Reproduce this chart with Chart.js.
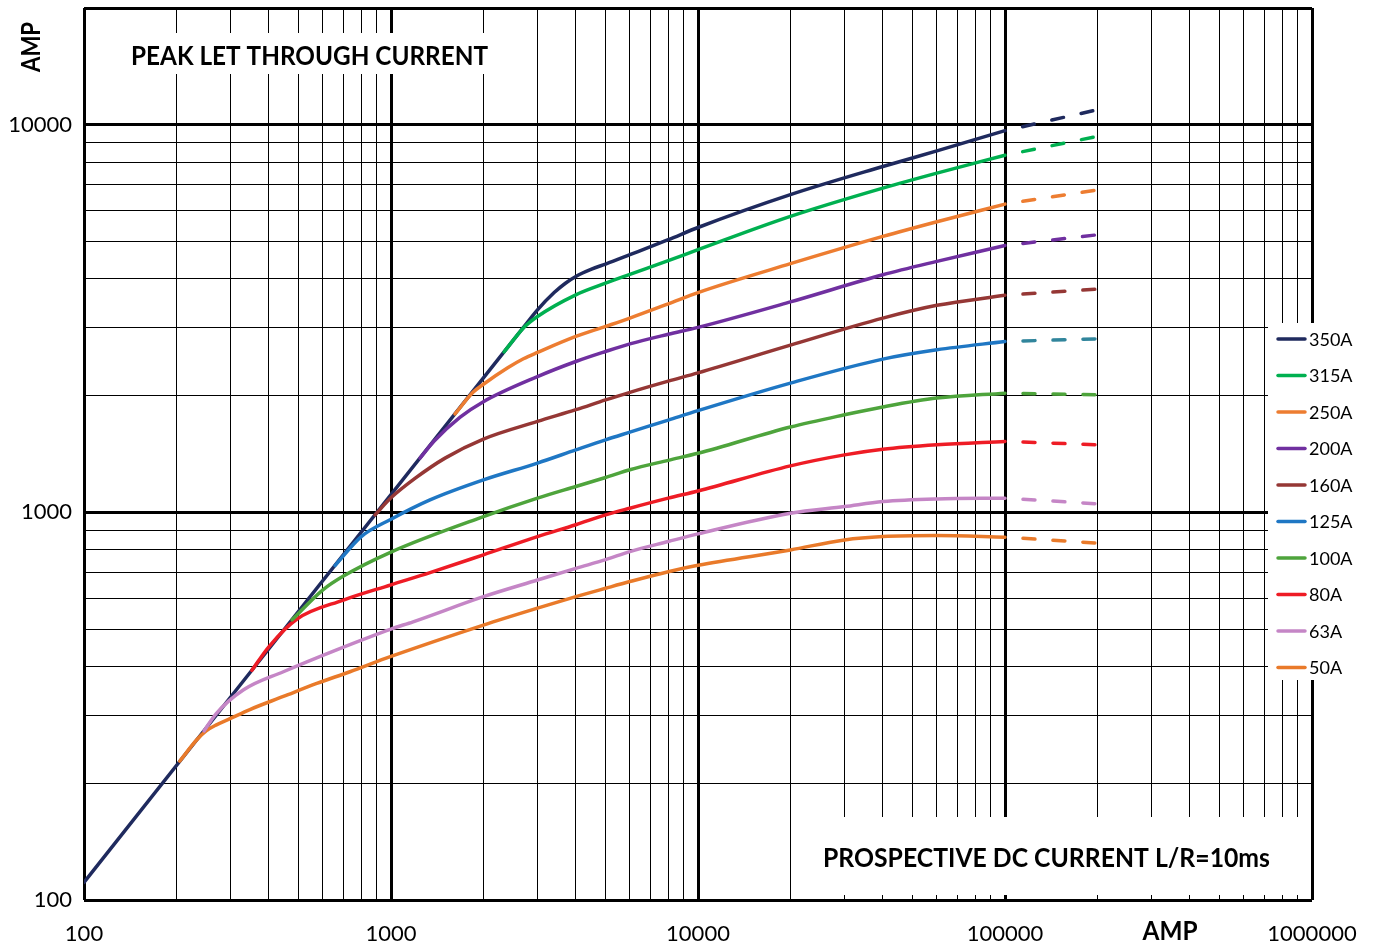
<!DOCTYPE html>
<html>
<head>
<meta charset="utf-8">
<script src="https://cdn.jsdelivr.net/npm/chart.js@4.4.1/dist/chart.umd.min.js"></script>
<style>
  html, body { margin: 0; padding: 0; background: #fff; }
  #wrap { width: 1375px; height: 949px; position: relative; }
</style>
</head>
<body>
<div id="wrap"><canvas id="graph"></canvas></div>
<script>
// fuse ratings, in legend order
const ratings = ["350A", "315A", "250A", "200A", "160A", "125A", "100A", "80A", "63A", "50A"];
const colors = ["#1f2a5e", "#00b050", "#ed7d31", "#7030a0", "#953735", "#1f77c4", "#4ea43c", "#ee1c25", "#c586c6", "#e97a2a"];
const dashColors = ["#1f2a5e", "#00b050", "#ed7d31", "#7030a0", "#953735", "#31859c", "#4ea43c", "#ee1c25", "#c586c6", "#e97a2a"];

// prospective current (x) and peak let-through current (y)
const x350 = [100, 2700, 3000, 3400, 3700, 4000, 4500, 5000, 6000, 8000, 10000, 20000, 40000, 60000, 100000];
const y350 = [111, 3000, 3330, 3690, 3900, 4060, 4240, 4370, 4620, 5050, 5430, 6600, 7800, 8560, 9650];
const x315 = [2335, 2700, 3000, 4000, 5000, 6000, 8000, 10000, 20000, 40000, 60000, 100000];
const y315 = [2592, 2990, 3200, 3640, 3900, 4110, 4460, 4760, 5800, 6860, 7500, 8340];
const x250 = [1616, 1850, 2000, 2400, 2700, 3000, 4000, 5000, 6000, 8000, 10000, 20000, 40000, 60000, 100000];
const y250 = [1794, 2040, 2140, 2360, 2490, 2585, 2843, 3017, 3170, 3450, 3690, 4380, 5150, 5620, 6240];
const x200 = [1243, 1380, 1680, 2000, 3000, 4000, 5000, 6000, 8000, 10000, 20000, 40000, 60000, 100000];
const y200 = [1380, 1525, 1760, 1930, 2240, 2450, 2600, 2720, 2880, 3000, 3490, 4100, 4440, 4880];
const x160 = [887, 1000, 1200, 1500, 2000, 3000, 4000, 5000, 6000, 8000, 10000, 20000, 40000, 60000, 100000];
const y160 = [985, 1090, 1225, 1380, 1545, 1716, 1840, 1950, 2040, 2180, 2290, 2700, 3170, 3420, 3630];
const x125 = [657, 800, 1000, 1340, 2000, 3000, 4000, 5000, 6000, 8000, 10000, 20000, 40000, 60000, 100000];
const y125 = [729, 866, 960, 1077, 1213, 1340, 1449, 1538, 1610, 1730, 1830, 2155, 2485, 2626, 2759];
const x100 = [476, 600, 700, 1000, 2000, 3000, 4000, 5000, 6000, 8000, 10000, 20000, 30000, 40000, 60000, 100000];
const y100 = [528, 631, 685, 790, 975, 1088, 1166, 1230, 1288, 1362, 1420, 1660, 1785, 1870, 1971, 2030];
const x80 = [352, 400, 493, 700, 1000, 1340, 2000, 3000, 4000, 5000, 6000, 8000, 10000, 20000, 30000, 40000, 60000, 100000];
const y80 = [391, 450, 530, 594, 650, 699, 777, 866, 929, 985, 1025, 1088, 1135, 1318, 1407, 1455, 1494, 1524];
const x63 = [246, 270, 330, 446, 665, 1000, 1180, 2000, 3000, 4000, 5000, 6000, 8000, 10000, 20000, 30000, 40000, 60000, 100000];
const y63 = [273, 303, 348, 388, 442, 500, 522, 606, 669, 717, 755, 792, 841, 880, 995, 1035, 1066, 1083, 1088];
const x50 = [205, 233, 250, 270, 300, 347, 446, 573, 735, 1000, 2000, 3000, 4000, 5000, 6000, 8000, 10000, 20000, 30000, 40000, 60000, 100000];
const y50 = [228, 259, 273, 283, 294, 310, 335, 362, 388, 425, 512, 566, 606, 637, 663, 703, 730, 800, 849, 866, 871, 863];

// dashed extrapolation from 100000 to 200000
const dashX = [100000, 200000];
const dashEnd = [10930, 9330, 6790, 5200, 3766, 2803, 2011, 1494, 1052, 833];

const xTickLabels = [100, 1000, 10000, 100000, 1000000];
const yTickLabels = [100, 1000, 10000];

const seriesX = [x350, x315, x250, x200, x160, x125, x100, x80, x63, x50];
const seriesY = [y350, y315, y250, y200, y160, y125, y100, y80, y63, y50];

function logGrid(from, to) {
  const out = [];
  for (let d = from; d < to; d *= 10) {
    for (let m = 1; m < 10; m++) out.push(m * d);
  }
  out.push(to);
  return out;
}
const isDecade = (v) => Math.abs(Math.log10(v) - Math.round(Math.log10(v))) < 1e-9;

const datasets = [];
ratings.forEach((name, i) => {
  datasets.push({
    label: name,
    data: seriesX[i].map((x, k) => ({ x: x, y: seriesY[i][k] })),
    borderColor: colors[i],
    borderWidth: 3.5,
    pointRadius: 0,
    cubicInterpolationMode: "monotone",
    borderCapStyle: "round",
    order: i === 0 ? 1 : 0
  });
  const last = seriesY[i][seriesY[i].length - 1];
  datasets.push({
    label: name + " dashed",
    data: [{ x: dashX[0], y: last }, { x: dashX[1], y: dashEnd[i] }],
    borderColor: dashColors[i],
    borderWidth: 3.5,
    pointRadius: 0,
    borderDash: [12, 18],
    borderDashOffset: 12,
    borderCapStyle: "round",
    order: 0
  });
});

function fitText(ctx, text, cx, cy, width, size) {
  ctx.font = "bold " + size + "px Lato";
  const w = ctx.measureText(text).width;
  ctx.save();
  ctx.translate(cx, cy);
  ctx.scale(width / w, 1);
  ctx.textAlign = "center";
  ctx.textBaseline = "middle";
  ctx.fillText(text, 0, 0);
  ctx.restore();
}

const overlay = {
  id: "overlay",
  afterDraw(chart) {
    const ctx = chart.ctx;
    ctx.save();
    // white label boxes over the grid
    ctx.fillStyle = "#fff";
    ctx.fillRect(125, 33, 372, 41);
    ctx.fillRect(791, 817, 519, 78);
    ctx.fillRect(1268, 323, 107, 357);

    ctx.fillStyle = "#000";
    fitText(ctx, "PEAK LET THROUGH CURRENT", 309.5, 56, 357, 27);
    fitText(ctx, "PROSPECTIVE DC CURRENT L/R=10ms", 1046.5, 858, 447, 27);
    fitText(ctx, "AMP", 1170, 931, 55, 27);
    ctx.save();
    ctx.translate(31, 47);
    ctx.rotate(-Math.PI / 2);
    fitText(ctx, "AMP", 0, 0, 50, 27);
    ctx.restore();

    // legend
    ratings.forEach((r, i) => {
      const y = 339 + i * 36.5;
      ctx.strokeStyle = colors[i];
      ctx.lineWidth = 3.5;
      ctx.lineCap = "round";
      ctx.beginPath();
      ctx.moveTo(1278, y);
      ctx.lineTo(1305, y);
      ctx.stroke();
      ctx.fillStyle = "#000";
      ctx.font = "18px Lato";
      ctx.textAlign = "left";
      ctx.textBaseline = "middle";
      ctx.fillText(r, 1309, y + 1);
    });
    ctx.restore();
  }
};

const noPad = (s) => { s.paddingTop = 0; s.paddingBottom = 0; s.paddingLeft = 0; s.paddingRight = 0; };

const ctx = document.getElementById("graph").getContext("2d");
new Chart(ctx, {
  type: "line",
  data: { datasets: datasets },
  plugins: [overlay],
  options: {
    responsive: true,
    maintainAspectRatio: false,
    animation: false,
    events: [],
    layout: { padding: { top: 8, right: 63, left: 0, bottom: 0 } },
    plugins: { legend: { display: false }, tooltip: { enabled: false } },
    scales: {
      x: {
        type: "logarithmic",
        min: 100,
        max: 1000000,
        afterBuildTicks: (s) => { s.ticks = logGrid(100, 1000000).map((v) => ({ value: v })); },
        afterFit: (s) => { s.height = 49; noPad(s); },
        border: { display: false },
        grid: {
          drawTicks: false,
          color: "#000",
          lineWidth: (c) => (c.tick && isDecade(c.tick.value) ? 3 : 1)
        },
        ticks: {
          autoSkip: false,
          maxRotation: 0,
          padding: 21,
          color: "#000",
          font: { family: "Lato", size: 22 },
          callback: (v) => (xTickLabels.includes(v) ? String(v) : "")
        }
      },
      y: {
        type: "logarithmic",
        min: 100,
        max: 20000,
        afterBuildTicks: (s) => {
          const t = logGrid(100, 10000);
          t.push(20000);
          s.ticks = t.map((v) => ({ value: v }));
        },
        afterFit: (s) => { s.width = 84; noPad(s); },
        border: { display: false },
        grid: {
          drawTicks: false,
          color: "#000",
          lineWidth: (c) => (c.tick && (isDecade(c.tick.value) || c.tick.value === 20000) ? 3 : 1)
        },
        ticks: {
          autoSkip: false,
          padding: 12,
          color: "#000",
          font: { family: "Lato", size: 22 },
          callback: (v) => (yTickLabels.includes(v) ? String(v) : "")
        }
      }
    }
  }
});
</script>
</body>
</html>
